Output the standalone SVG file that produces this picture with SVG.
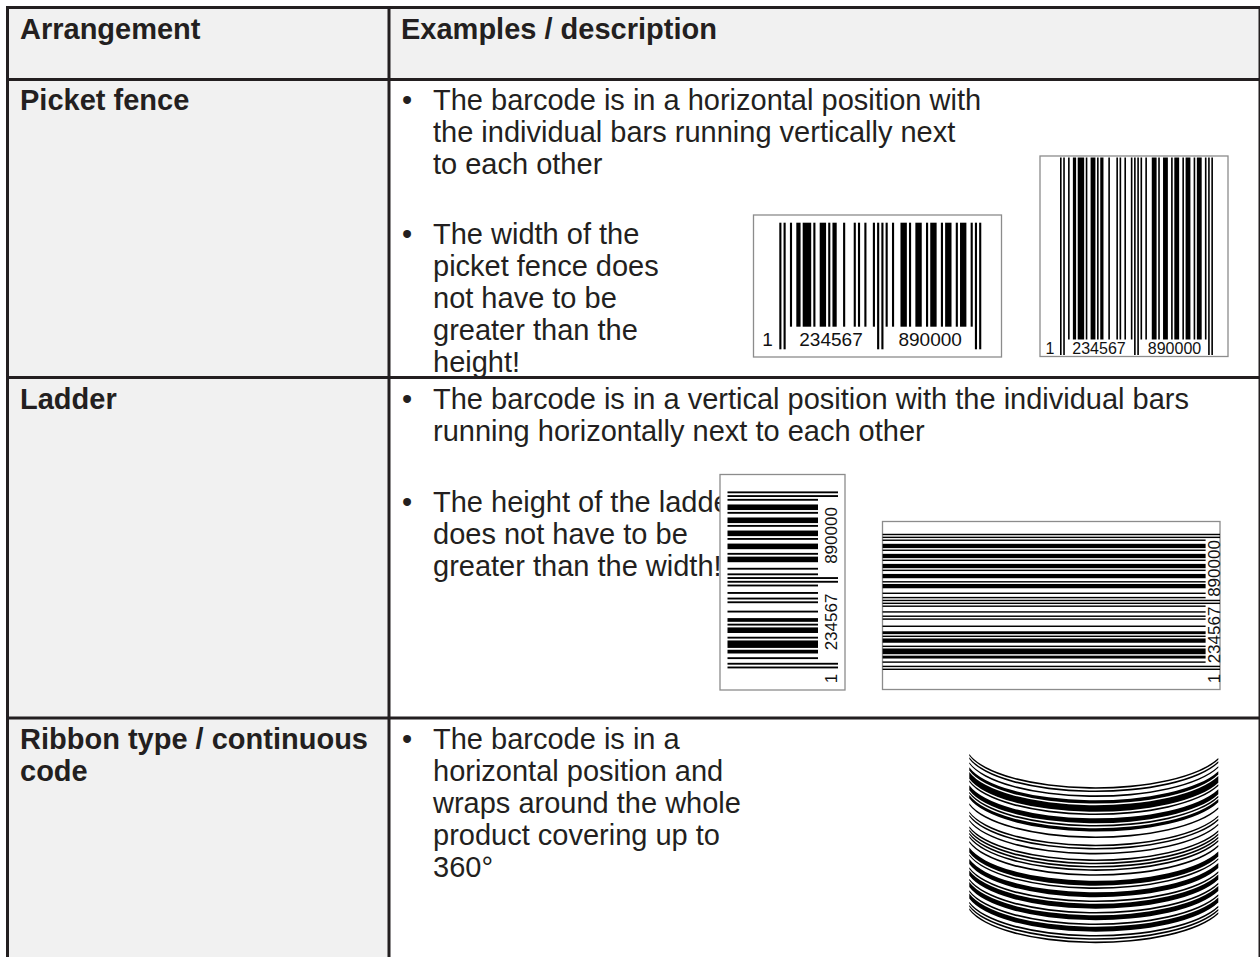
<svg xmlns="http://www.w3.org/2000/svg" xmlns:xlink="http://www.w3.org/1999/xlink" width="1260" height="957" viewBox="0 0 1260 957">
<style>
.t{font-family:"Liberation Sans",Arial,Helvetica,sans-serif;font-size:29px;fill:#231f20}
.b{font-weight:bold}
.d{font-family:"Liberation Sans",Arial,Helvetica,sans-serif;fill:#111}
.box{fill:#fff;stroke:#8c8c8c;stroke-width:1.3}
.bar{fill:#000}
#grid line{stroke:#231f20;stroke-width:3}
</style>
<defs>
<g id="bd" class="bar">
<rect x="5" y="0" width="1" height="1"/><rect x="8" y="0" width="2" height="1"/><rect x="11" y="0" width="4" height="1"/><rect x="16" y="0" width="1" height="1"/>
<rect x="19" y="0" width="3" height="1"/><rect x="23" y="0" width="1" height="1"/><rect x="25" y="0" width="2" height="1"/><rect x="30" y="0" width="1" height="1"/>
<rect x="35" y="0" width="1" height="1"/><rect x="37" y="0" width="1" height="1"/><rect x="40" y="0" width="1" height="1"/><rect x="44" y="0" width="1" height="1"/>
<rect x="50" y="0" width="1" height="1"/><rect x="53" y="0" width="1" height="1"/><rect x="57" y="0" width="3" height="1"/><rect x="61" y="0" width="1" height="1"/>
<rect x="64" y="0" width="3" height="1"/><rect x="69" y="0" width="1" height="1"/><rect x="71" y="0" width="3" height="1"/><rect x="76" y="0" width="1" height="1"/>
<rect x="78" y="0" width="3" height="1"/><rect x="83" y="0" width="1" height="1"/><rect x="85" y="0" width="3" height="1"/><rect x="90" y="0" width="1" height="1"/>
</g>
<g id="bg" class="bar">
<rect x="0" y="0" width="1" height="1"/><rect x="2" y="0" width="1" height="1"/><rect x="46" y="0" width="1" height="1"/><rect x="48" y="0" width="1" height="1"/><rect x="92" y="0" width="1" height="1"/><rect x="94" y="0" width="1" height="1"/>
</g>
<path id="rb1" class="bar" d="M0,0 A130,43.5 0 0 0 249,4 L249,5.64 A130,43.5 0 0 1 0,1.64 Z"/>
<path id="rb2" class="bar" d="M0,0 A130,43.5 0 0 0 249,4 L249,7.28 A130,43.5 0 0 1 0,3.28 Z"/>
<path id="rb3" class="bar" d="M0,0 A130,43.5 0 0 0 249,4 L249,8.93 A130,43.5 0 0 1 0,4.93 Z"/>
<path id="rb4" class="bar" d="M0,0 A130,43.5 0 0 0 249,4 L249,10.57 A130,43.5 0 0 1 0,6.57 Z"/>
</defs>

<g id="fills">
<rect x="7.5" y="7.5" width="1252.5" height="72" fill="#f1f1f1"/>
<rect x="7.5" y="79.5" width="381.5" height="877.5" fill="#f1f1f1"/>
<rect x="389" y="79.5" width="871" height="877.5" fill="#fff"/>
</g>

<g id="header">
<text class="t b" x="20" y="39">Arrangement</text>
<text class="t b" x="401" y="39">Examples / description</text>
</g>

<g id="row-picket-fence">
<text class="t b" x="20" y="110">Picket fence</text>
<text class="t" x="402" y="110">•</text>
<text class="t" x="433" y="110">The barcode is in a horizontal position with</text>
<text class="t" x="433" y="142">the individual bars running vertically next</text>
<text class="t" x="433" y="174">to each other</text>
<text class="t" x="402" y="244">•</text>
<text class="t" x="433" y="244">The width of the</text>
<text class="t" x="433" y="276">picket fence does</text>
<text class="t" x="433" y="308">not have to be</text>
<text class="t" x="433" y="340">greater than the</text>
<text class="t" x="433" y="372">height!</text>
<g id="barcode-picket-small">
<rect class="box" x="753.5" y="215" width="248" height="142"/>
<use xlink:href="#bd" transform="translate(779.3,222.7) scale(2.126,104)"/>
<use xlink:href="#bg" transform="translate(779.3,222.7) scale(2.126,126.6)"/>
<text class="d" font-size="19" text-anchor="middle" x="767.5" y="346">1</text>
<text class="d" font-size="19" text-anchor="middle" x="831" y="346">234567</text>
<text class="d" font-size="19" text-anchor="middle" x="930.2" y="346">890000</text>
</g>
<g id="barcode-picket-tall">
<rect class="box" x="1040" y="156" width="188" height="200.5"/>
<use xlink:href="#bd" transform="translate(1060,157.5) scale(1.61,182)"/>
<use xlink:href="#bg" transform="translate(1060,157.5) scale(1.61,197.5)"/>
<text class="d" font-size="16" text-anchor="middle" x="1050" y="354">1</text>
<text class="d" font-size="16" text-anchor="middle" x="1099" y="354">234567</text>
<text class="d" font-size="16" text-anchor="middle" x="1174.5" y="354">890000</text>
</g>
</g>

<g id="row-ladder">
<text class="t b" x="20" y="409">Ladder</text>
<text class="t" x="402" y="409">•</text>
<text class="t" x="433" y="409">The barcode is in a vertical position with the individual bars</text>
<text class="t" x="433" y="441">running horizontally next to each other</text>
<text class="t" x="402" y="512">•</text>
<text class="t" x="433" y="512">The height of the ladder</text>
<text class="t" x="433" y="544">does not have to be</text>
<text class="t" x="433" y="576">greater than the width!</text>
<g id="barcode-ladder-small">
<rect class="box" x="720" y="474.5" width="125" height="215.5"/>
<use xlink:href="#bd" transform="translate(727.5,668.4) rotate(-90) scale(1.863,90.5)"/>
<use xlink:href="#bg" transform="translate(727.5,668.4) rotate(-90) scale(1.863,110.5)"/>
<text class="d" font-size="17" text-anchor="middle" transform="translate(837,678.4) rotate(-90)">1</text>
<text class="d" font-size="17" text-anchor="middle" transform="translate(837,622) rotate(-90)">234567</text>
<text class="d" font-size="17" text-anchor="middle" transform="translate(837,535.5) rotate(-90)">890000</text>
</g>
<g id="barcode-ladder-wide">
<rect class="box" x="882.5" y="521.5" width="337.5" height="168"/>
<use xlink:href="#bd" transform="translate(882.6,670) rotate(-90) scale(1.434,323)"/>
<use xlink:href="#bg" transform="translate(882.6,670) rotate(-90) scale(1.434,337.4)"/>
<text class="d" font-size="17" text-anchor="middle" transform="translate(1219.5,678.4) rotate(-90)">1</text>
<text class="d" font-size="17" text-anchor="middle" transform="translate(1219.5,635) rotate(-90)">234567</text>
<text class="d" font-size="17" text-anchor="middle" transform="translate(1219.5,568.5) rotate(-90)">890000</text>
</g>
</g>

<g id="row-ribbon">
<text class="t b" x="20" y="749">Ribbon type / continuous</text>
<text class="t b" x="20" y="781">code</text>
<text class="t" x="402" y="749">•</text>
<text class="t" x="433" y="749">The barcode is in a</text>
<text class="t" x="433" y="781">horizontal position and</text>
<text class="t" x="433" y="813">wraps around the whole</text>
<text class="t" x="433" y="845">product covering up to</text>
<text class="t" x="433" y="877">360°</text>
<g id="barcode-ribbon" transform="translate(969.3,754)">
<use xlink:href="#rb1" y="0"/><use xlink:href="#rb1" y="3.28"/><use xlink:href="#rb1" y="8.21"/><use xlink:href="#rb2" y="13.14"/>
<use xlink:href="#rb4" y="18.06"/><use xlink:href="#rb1" y="26.27"/><use xlink:href="#rb3" y="31.2"/><use xlink:href="#rb1" y="37.77"/>
<use xlink:href="#rb2" y="41.05"/><use xlink:href="#rb1" y="49.26"/><use xlink:href="#rb1" y="57.47"/><use xlink:href="#rb1" y="60.75"/>
<use xlink:href="#rb1" y="65.68"/><use xlink:href="#rb1" y="72.25"/><use xlink:href="#rb1" y="75.53"/><use xlink:href="#rb1" y="78.82"/>
<use xlink:href="#rb1" y="82.1"/><use xlink:href="#rb1" y="87.03"/><use xlink:href="#rb3" y="93.59"/><use xlink:href="#rb1" y="100.16"/>
<use xlink:href="#rb3" y="105.09"/><use xlink:href="#rb1" y="113.3"/><use xlink:href="#rb3" y="116.58"/><use xlink:href="#rb1" y="124.79"/>
<use xlink:href="#rb3" y="128.08"/><use xlink:href="#rb1" y="136.29"/><use xlink:href="#rb3" y="139.57"/><use xlink:href="#rb1" y="147.78"/>
<use xlink:href="#rb1" y="151.06"/><use xlink:href="#rb1" y="154.35"/>
</g>
</g>

<g id="grid">
<line x1="6" y1="7.5" x2="1260" y2="7.5"/>
<line x1="6" y1="79.5" x2="1260" y2="79.5"/>
<line x1="6" y1="377.5" x2="1260" y2="377.5"/>
<line x1="6" y1="718" x2="1260" y2="718"/>
<line x1="7.5" y1="6" x2="7.5" y2="957"/>
<line x1="389" y1="6" x2="389" y2="957"/>
<line x1="1260" y1="6" x2="1260" y2="957"/>
</g>
</svg>
